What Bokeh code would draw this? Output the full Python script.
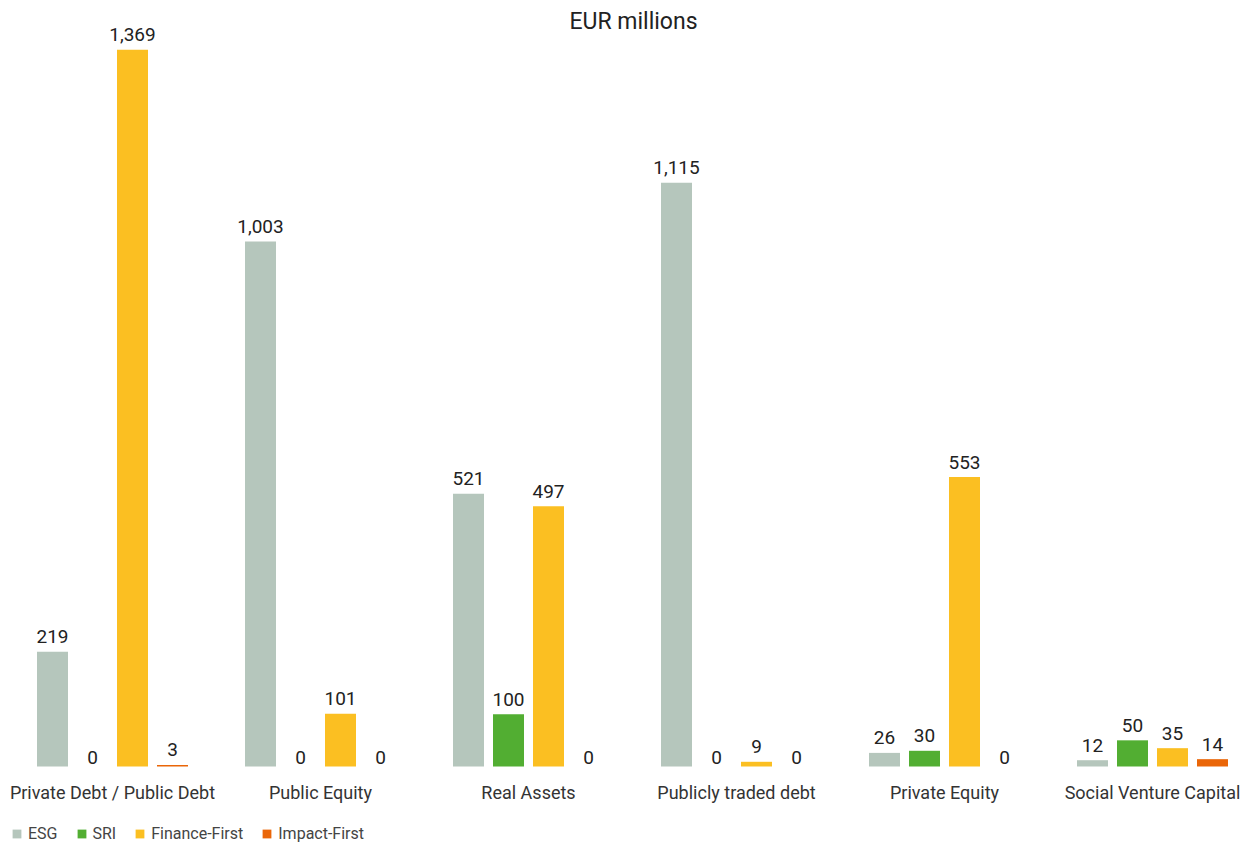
from bokeh.plotting import figure
from bokeh.models import ColumnDataSource, Range1d, Label
from bokeh.transform import dodge
from bokeh.core.properties import value
from bokeh.embed import file_html
from bokeh.resources import INLINE

categories = ["Private Debt / Public Debt", "Public Equity", "Real Assets",
              "Publicly traded debt", "Private Equity", "Social Venture Capital"]
series_names = ["ESG", "SRI", "Finance-First", "Impact-First"]
esg = [219, 1003, 521, 1115, 26, 12]
sri = [0, 0, 100, 0, 30, 50]
finance_first = [1369, 101, 497, 9, 553, 35]
impact_first = [3, 0, 0, 0, 0, 14]

series_values = [esg, sri, finance_first, impact_first]
colors = ["#b5c6bc", "#52ae32", "#fbbf22", "#ea6608"]

FONT = "Roboto"
W, H = 1252, 843
GROUP_PX = 208.0          # pixels per category
PX_PER_UNIT = 0.5235      # vertical pixels per EUR million
BASE_FROM_BOTTOM = 77     # pixels below the baseline

x_start = -112.0 / GROUP_PX
x_end = x_start + W / GROUP_PX
y_start = -BASE_FROM_BOTTOM / PX_PER_UNIT
y_end = y_start + H / PX_PER_UNIT

p = figure(width=W, height=H, output_backend="svg", toolbar_location=None,
           x_range=Range1d(x_start, x_end), y_range=Range1d(y_start, y_end),
           x_axis_location=None, y_axis_location=None, min_border=0)
p.grid.visible = False
p.outline_line_color = None
p.background_fill_color = "white"
p.border_fill_color = "white"

title = Label(x=633, y=H - 21, x_units="screen", y_units="screen",
              text="EUR millions", text_align="center", text_baseline="middle",
              text_font=FONT, text_font_size="23px", text_color="#222222")
p.add_layout(title)

xs = list(range(len(categories)))
offsets_px = [-60, -20, 20, 60]
bar_w = 31 / GROUP_PX

for name, vals, col, off in zip(series_names, series_values, colors, offsets_px):
    src = ColumnDataSource(dict(
        x=xs, v=vals,
        lbl=[f"{v:,}" for v in vals],
        yoff=[-15 if v > 0 else -9 for v in vals],
    ))
    d = dodge("x", off / GROUP_PX, range=p.x_range)
    p.vbar(x=d, top="v", bottom=0, width=bar_w, source=src,
           fill_color=col, line_color=None, legend_label=name)
    p.text(x=d, y="v", text="lbl", source=src, text_align="center",
           text_baseline="alphabetic", y_offset="yoff",
           text_font=value(FONT), text_font_size="19px", text_color="#222222")

cat_src = ColumnDataSource(dict(x=xs, t=categories, y=[0] * len(xs)))
p.text(x="x", y="y", text="t", source=cat_src, text_align="center",
       text_baseline="middle", y_offset=26,
       text_font=value(FONT), text_font_size="18px", text_color="#333333")

lg = p.legend[0]
lg.orientation = "horizontal"
lg.location = (11, 0)
lg.margin = 0
lg.padding = 0
lg.spacing = 18
lg.glyph_width = 11
lg.glyph_height = 11
lg.label_standoff = 6
lg.label_height = 11
lg.label_text_font = FONT
lg.label_text_font_size = "16px"
lg.label_text_color = "#444444"
lg.border_line_color = None
lg.background_fill_alpha = 0

open("out.html", "w").write(file_html(p, INLINE))
